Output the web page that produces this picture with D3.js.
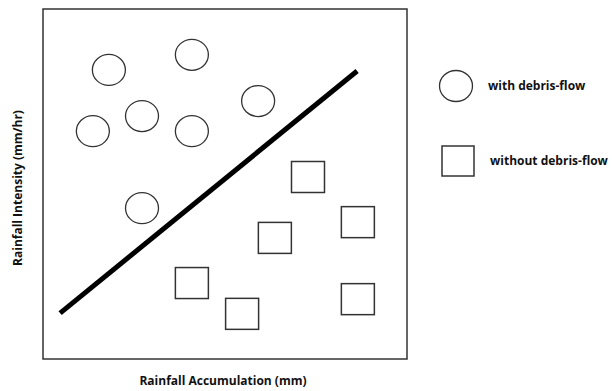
<!DOCTYPE html>
<html>
<head>
<meta charset="utf-8">
<script src="https://cdn.jsdelivr.net/npm/d3@7"></script>
<style>
  body { margin: 0; background: #fff; }
  text { font-family: "Open Sans", "Liberation Sans", sans-serif; font-weight: bold; fill: #111; }
</style>
</head>
<body>
<div class="figure"></div>
<script>
// schematic: circles = with debris-flow, squares = without
var withFlowX = [18.1, 40.9, 59.1, 13.7, 27.2, 40.9, 27.2]
var withFlowY = [82.6, 86.9, 73.7, 65.1, 69.4, 65.1, 43.1]

var withoutFlowX = [72.8, 86.5, 63.7, 40.9, 54.7, 86.5]
var withoutFlowY = [52.0, 39.1, 34.6, 21.7, 12.9, 17.1]

// threshold line end points
var lineX = [4.7, 86.3]
var lineY = [13.1, 82.3]

var legendLabels = ["with debris-flow", "without debris-flow"]
var xTitle = "Rainfall Accumulation (mm)"
var yTitle = "Rainfall Intensity (mm/hr)"

var dim = { w: 612, h: 391 }
var box = { left: 43, top: 9, right: 407, bottom: 359 }
var fontSize = "12px"

var svg = d3.select("div.figure")
    .append("svg")
    .attr("width", dim.w)
    .attr("height", dim.h)

var xScale = d3.scaleLinear().domain([0, 100]).range([box.left, box.right])
var yScale = d3.scaleLinear().domain([0, 100]).range([box.bottom, box.top])

var stroke = "#333"

svg.append("rect")
    .attr("x", box.left)
    .attr("y", box.top)
    .attr("width", box.right - box.left)
    .attr("height", box.bottom - box.top)
    .attr("fill", "none")
    .attr("stroke", stroke)
    .attr("stroke-width", 1.5)

var circleData = d3.zip(withFlowX, withFlowY)
var squareData = d3.zip(withoutFlowX, withoutFlowY)

var rx = 16.5, ry = 15.5
var sqW = 33, sqH = 31

svg.append("g")
    .selectAll("ellipse")
    .data(circleData)
    .enter()
    .append("ellipse")
    .attr("cx", function(d) { return xScale(d[0]) })
    .attr("cy", function(d) { return yScale(d[1]) })
    .attr("rx", rx)
    .attr("ry", ry)
    .attr("fill", "none")
    .attr("stroke", stroke)
    .attr("stroke-width", 1.3)

svg.append("g")
    .selectAll("rect")
    .data(squareData)
    .enter()
    .append("rect")
    .attr("x", function(d) { return xScale(d[0]) - sqW / 2 })
    .attr("y", function(d) { return yScale(d[1]) - sqH / 2 })
    .attr("width", sqW)
    .attr("height", sqH)
    .attr("fill", "none")
    .attr("stroke", stroke)
    .attr("stroke-width", 1.5)

var line = d3.line()
    .x(function(d) { return xScale(d[0]) })
    .y(function(d) { return yScale(d[1]) })

svg.append("path")
    .datum(d3.zip(lineX, lineY))
    .attr("d", line)
    .attr("fill", "none")
    .attr("stroke", "#000")
    .attr("stroke-width", 5)

// legend
svg.append("ellipse")
    .attr("cx", 456)
    .attr("cy", 86)
    .attr("rx", rx)
    .attr("ry", ry)
    .attr("fill", "none")
    .attr("stroke", stroke)
    .attr("stroke-width", 1.3)

svg.append("text")
    .attr("x", 488)
    .attr("y", 90)
    .style("font-size", fontSize)
    .text(legendLabels[0])

svg.append("rect")
    .attr("x", 458 - 16)
    .attr("y", 161 - 15)
    .attr("width", 32)
    .attr("height", 30)
    .attr("fill", "none")
    .attr("stroke", stroke)
    .attr("stroke-width", 1.5)

svg.append("text")
    .attr("x", 490)
    .attr("y", 165)
    .style("font-size", fontSize)
    .text(legendLabels[1])

// axis titles
svg.append("text")
    .attr("x", 223)
    .attr("y", 385)
    .attr("text-anchor", "middle")
    .style("font-size", fontSize)
    .text(xTitle)

svg.append("text")
    .attr("transform", "translate(22,188) rotate(-90)")
    .attr("text-anchor", "middle")
    .style("font-size", fontSize)
    .text(yTitle)
</script>
</body>
</html>
